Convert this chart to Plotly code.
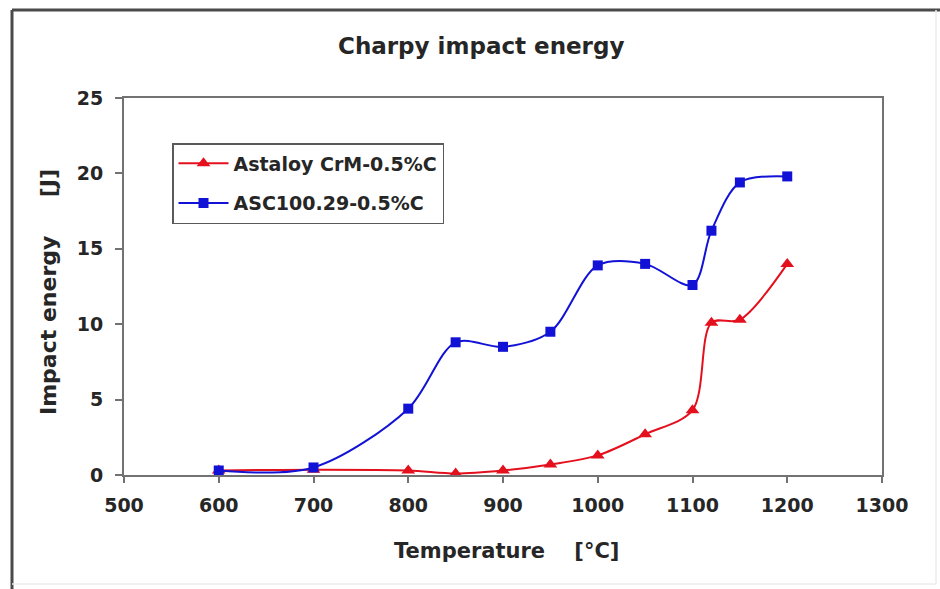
import plotly.graph_objects as go

# Test temperatures [°C]
temperature = [600, 700, 800, 850, 900, 950, 1000, 1050, 1100, 1120, 1150, 1200]

# Charpy impact energy [J] for each material
energy_astaloy_crm = [0.3, 0.35, 0.3, 0.1, 0.3, 0.7, 1.3, 2.7, 4.3, 10.1, 10.3, 14.0]
energy_asc100 = [0.3, 0.5, 4.4, 8.8, 8.5, 9.5, 13.9, 14.0, 12.6, 16.2, 19.4, 19.8]

series_names = ["Astaloy CrM-0.5%C", "ASC100.29-0.5%C"]

x_ticks = [500, 600, 700, 800, 900, 1000, 1100, 1200, 1300]
y_ticks = [0, 5, 10, 15, 20, 25]

W, H = 940, 589
L, R, T, B = 124, 58, 98, 114
PW, PH = W - L - R, H - T - B


def px(x):
    return (x - L) / PW


def py(y):
    return (H - B - y) / PH


FONT = "DejaVu Sans, Arial, sans-serif"
TXT = "#262626"
RED = "#e4101e"
BLUE = "#1212d6"

fig = go.Figure()
fig.add_trace(go.Scatter(
    x=temperature, y=energy_astaloy_crm, name=series_names[0],
    legendgroup="a", mode="lines+markers",
    line=dict(color=RED, width=2, shape="spline", smoothing=0.9),
    marker=dict(symbol="triangle-up", size=12, color=RED),
))
fig.add_trace(go.Scatter(
    x=temperature, y=energy_asc100, name=series_names[1],
    legendgroup="b", mode="lines+markers",
    line=dict(color=BLUE, width=2, shape="spline", smoothing=0.9),
    marker=dict(symbol="square", size=10, color=BLUE),
))

axis_common = dict(
    showgrid=False, zeroline=False, showline=True, mirror=True,
    linecolor="#727272", linewidth=2,
    ticks="outside", tickcolor="#727272", tickwidth=1.5,
    tickfont=dict(family=FONT, size=19, color=TXT, weight="bold"),
)

fig.update_layout(
    width=W, height=H,
    margin=dict(l=L, r=R, t=T, b=B),
    paper_bgcolor="white", plot_bgcolor="white",
    showlegend=True,
    legend=dict(
        x=px(172), y=py(143), xanchor="left", yanchor="top",
        bgcolor="white", bordercolor="#5a5a5a", borderwidth=1.5,
        font=dict(family=FONT, size=19, color=TXT, weight="bold"),
        itemwidth=50, traceorder="grouped", tracegroupgap=12,
    ),
    xaxis=dict(axis_common, range=[500, 1300], tickvals=x_ticks,
               ticklen=6, ticklabelstandoff=6),
    yaxis=dict(axis_common, range=[0, 25], tickvals=y_ticks,
               ticklen=7, ticklabelstandoff=8),
)

# Title and axis titles
fig.add_annotation(
    text="Charpy impact energy", xref="paper", yref="paper",
    x=px(481), y=py(46), showarrow=False, xanchor="center", yanchor="middle",
    font=dict(family=FONT, size=23, color=TXT, weight="bold"),
)
fig.add_annotation(
    text="Temperature    [°C]", xref="paper", yref="paper",
    x=px(506), y=py(551), showarrow=False, xanchor="center", yanchor="middle",
    font=dict(family=FONT, size=21, color=TXT, weight="bold"),
)
fig.add_annotation(
    text="Impact energy     [J]", xref="paper", yref="paper",
    x=px(48), y=py(292), showarrow=False, xanchor="center", yanchor="middle",
    textangle=-90,
    font=dict(family=FONT, size=22, color=TXT, weight="bold"),
)

# Outer chart frame
frame = [
    (12, 10, 12, 595, "#4a4a4a", 3),
    (12, 10, 945, 10, "#4a4a4a", 3),
    (936, 10, 936, 584, "#ececec", 1.5),
    (12, 584, 936, 584, "#ececec", 1.5),
]
for x0, y0, x1, y1, c, w in frame:
    fig.add_shape(type="line", xref="paper", yref="paper",
                  x0=px(x0), y0=py(y0), x1=px(x1), y1=py(y1),
                  line=dict(color=c, width=w), layer="below")

fig.write_html("out.html")
